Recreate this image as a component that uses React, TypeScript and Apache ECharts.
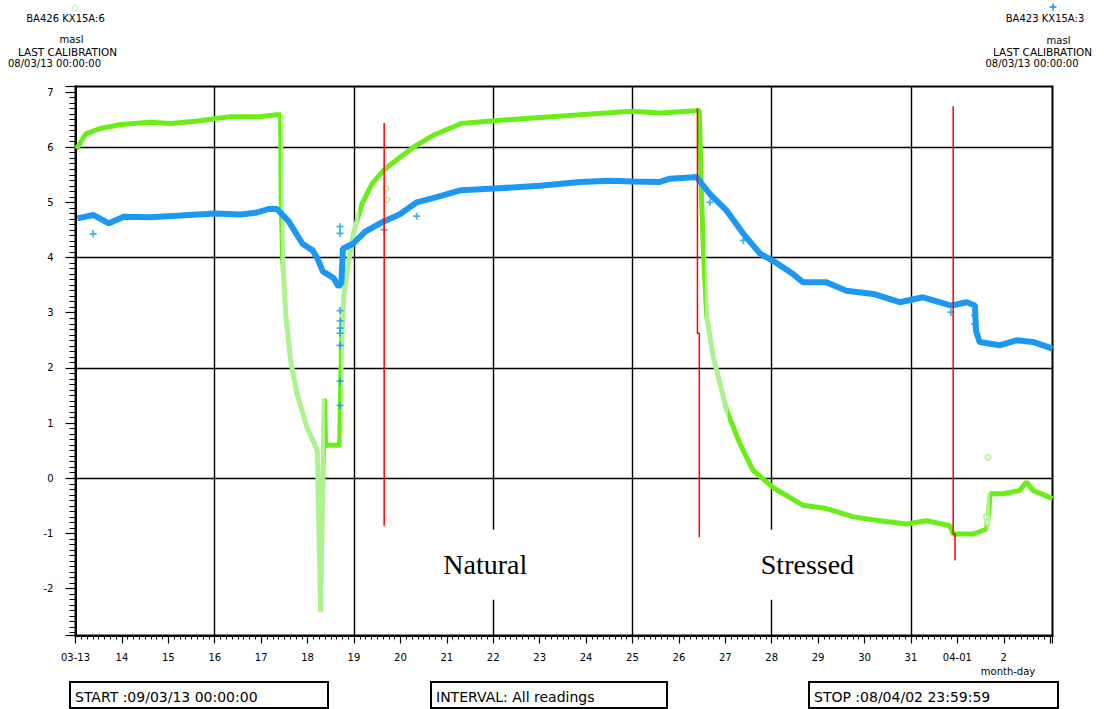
import React, { useEffect, useRef } from 'react';
import * as echarts from 'echarts';

const SANS = "'DejaVu Sans', sans-serif";

// x values are days since 03-13 00:00
const xLabels = ['03-13', '14', '15', '16', '17', '18', '19', '20', '21', '22', '23', '24', '25', '26', '27', '28', '29', '30', '31', '04-01', '2'];
const gridDays = [3, 6, 9, 12, 15, 18];
const gridLevels = [0, 2, 4, 6];

// BA426 KX15A:6 (green)
const greenReadings = [
  [0.02, 5.97], [0.22, 6.24], [0.54, 6.34], [0.97, 6.41], [1.61, 6.45], [2.05, 6.43], [2.69, 6.48], [3.01, 6.52],
  [3.34, 6.55], [3.98, 6.55], [4.33, 6.59], [4.42, 6.59],
  [4.43, 5.16], [4.46, 4.03], [4.53, 2.97], [4.63, 2.16], [4.77, 1.54], [4.99, 0.92], [5.21, 0.51],
  [5.28, -2.42], [5.36, 1.45], [5.39, 0.6], [5.69, 0.6],
  [5.73, 2.41], [5.78, 3.29], [5.86, 3.79], [5.98, 4.41], [6.17, 4.97], [6.39, 5.34], [6.65, 5.59], [6.84, 5.72],
  [7.28, 6.0], [7.72, 6.22], [8.31, 6.43], [9.02, 6.48], [10.01, 6.54], [10.87, 6.59], [11.99, 6.65], [12.59, 6.62],
  [13.38, 6.66], [13.44, 6.67],
  [13.49, 5.05], [13.53, 4.05], [13.6, 2.94], [13.74, 2.2], [13.92, 1.6], [14.03, 1.23], [14.32, 0.62], [14.6, 0.14],
  [15.07, -0.19], [15.68, -0.49], [16.18, -0.55], [16.76, -0.7], [17.33, -0.77], [17.9, -0.83], [18.34, -0.77],
  [18.84, -0.86], [18.91, -1.01], [19.34, -1.01], [19.63, -0.92], [19.68, -0.6], [19.7, -0.28], [19.98, -0.28],
  [20.34, -0.22], [20.49, -0.07], [20.63, -0.22], [21.05, -0.37],
];
const greenOutliers = [[6.69, 5.25], [6.71, 5.05], [19.66, 0.38], [19.62, -0.7], [19.64, -0.8]];

// BA423 KX15A:3 (blue)
const blueReadings = [
  [0.04, 4.71], [0.39, 4.77], [0.72, 4.62], [1.04, 4.74], [1.61, 4.73], [2.26, 4.76], [3.01, 4.8], [3.55, 4.78],
  [3.88, 4.81], [4.17, 4.88], [4.34, 4.88], [4.59, 4.66], [4.89, 4.25], [5.11, 4.13], [5.22, 3.97], [5.33, 3.75],
  [5.56, 3.63], [5.67, 3.47], [5.73, 3.55], [5.76, 4.16], [5.98, 4.25], [6.24, 4.47], [6.65, 4.66], [6.98, 4.78],
  [7.35, 5.0], [7.8, 5.1], [8.31, 5.22], [9.02, 5.25], [10.01, 5.3], [10.87, 5.37], [11.52, 5.39], [11.99, 5.38],
  [12.59, 5.37], [12.81, 5.43], [13.38, 5.46], [13.67, 5.15], [14.03, 4.85], [14.39, 4.43], [14.75, 4.07],
  [15.07, 3.92], [15.46, 3.7], [15.68, 3.55], [16.18, 3.55], [16.61, 3.4], [17.19, 3.34], [17.76, 3.19],
  [18.26, 3.28], [18.87, 3.13], [19.2, 3.19], [19.38, 3.13], [19.4, 2.68], [19.48, 2.47], [19.91, 2.41],
  [20.27, 2.5], [20.63, 2.47], [21.05, 2.35],
];
const blueOutliers = [
  [0.38, 4.43], [5.7, 4.56], [5.7, 4.44], [5.7, 3.04], [5.7, 2.85], [5.7, 2.72], [5.7, 2.63], [5.7, 2.41],
  [5.7, 1.76], [5.7, 1.32], [6.65, 4.5], [7.35, 4.75], [13.67, 5.0], [14.39, 4.31], [18.86, 3.01], [19.37, 2.95],
  [19.37, 2.8],
];

// red event markers
const redLine1 = [[6.65, 6.44], [6.65, -0.86]];
const redLine2 = [[13.4, 6.7], [13.4, 2.63], [13.44, 2.63], [13.44, -1.07]];
const redLine3 = [[18.91, 6.74], [18.91, -1.01], [18.95, -1.01], [18.95, -1.49]];

const annotations = [
  { name: 'Natural', coord: [8.83, -1.57] },
  { name: 'Stressed', coord: [15.77, -1.57] },
];

const GREEN = '#6aee18';
const GREEN_LIGHT = '#aef28f';
const BLUE = '#1c98f2';
const PLUS = 'path://M3,0 H5 V3 H8 V5 H5 V8 H3 V5 H0 V3 H3 Z';

function hdr(text: string, x: number, y: number, size = 10) {
  return {
    type: 'text',
    x,
    y,
    style: { text, fill: '#000', fontFamily: SANS, fontSize: size, align: 'center', verticalAlign: 'middle' },
  };
}

function box(x: number, w: number, text: string) {
  return [
    { type: 'rect', shape: { x, y: 682, width: w, height: 26 }, style: { fill: '#fff', stroke: '#000', lineWidth: 2 } },
    {
      type: 'text',
      x: x + 5,
      y: 697,
      style: { text, fill: '#000', fontFamily: SANS, fontSize: 14, align: 'left', verticalAlign: 'middle' },
    },
  ];
}

export default function App() {
  const ref = useRef<HTMLDivElement>(null);
  useEffect(() => {
    document.body.style.margin = '0';
    const chart = echarts.init(ref.current!, null, { renderer: 'svg' });
    const redSeries = (data: number[][]) => ({
      type: 'line',
      data,
      showSymbol: false,
      symbol: 'none',
      z: 4,
      lineStyle: { color: '#ff0000', width: 1.5 },
    });
    chart.setOption({
      animation: false,
      backgroundColor: '#fff',
      grid: {
        left: 75.5,
        top: 86.5,
        width: 977,
        height: 549,
        show: true,
        borderColor: '#000',
        borderWidth: 2,
        backgroundColor: '#fff',
      },
      xAxis: {
        type: 'value',
        min: 0,
        max: 21.05,
        interval: 1,
        axisLine: { show: true, onZero: false, lineStyle: { color: '#000', width: 2 } },
        axisTick: { show: true, length: 8, lineStyle: { color: '#000', width: 1.2 } },
        minorTick: { show: true, splitNumber: 8, length: 4, lineStyle: { color: '#000', width: 1 } },
        splitLine: { show: false },
        axisLabel: {
          showMaxLabel: false,
          margin: 17,
          color: '#000',
          fontFamily: SANS,
          fontSize: 10,
          formatter: (v: number) => (Math.abs(v - Math.round(v)) < 1e-6 && xLabels[Math.round(v)]) || '',
        },
      },
      yAxis: {
        type: 'value',
        min: -2.85,
        max: 7.1,
        splitNumber: 10,
        axisLine: { show: true, onZero: false, lineStyle: { color: '#000', width: 2 } },
        axisTick: { show: true, length: 10, lineStyle: { color: '#000', width: 1.2 } },
        minorTick: { show: true, splitNumber: 10, length: 6, lineStyle: { color: '#000', width: 1 } },
        splitLine: { show: false },
        axisLabel: {
          showMinLabel: false,
          showMaxLabel: false,
          margin: 22,
          color: '#000',
          fontFamily: SANS,
          fontSize: 10,
        },
      },
      visualMap: [
        {
          type: 'piecewise',
          show: false,
          dimension: 0,
          seriesIndex: 1,
          pieces: [
            { lt: 4.425, color: GREEN },
            { gte: 4.425, lt: 5.38, color: GREEN_LIGHT },
            { gte: 5.38, lt: 5.71, color: GREEN },
            { gte: 5.71, lt: 6.1, color: GREEN_LIGHT },
            { gte: 6.1, lt: 13.56, color: GREEN },
            { gte: 13.56, lt: 14.05, color: GREEN_LIGHT },
            { gte: 14.05, lt: 19.64, color: GREEN },
            { gte: 19.64, lt: 19.71, color: GREEN_LIGHT },
            { gte: 19.71, color: GREEN },
          ],
        },
      ],
      series: [
        {
          type: 'line',
          data: [],
          z: 1,
          markLine: {
            silent: true,
            z: 1,
            symbol: ['none', 'none'],
            label: { show: false },
            lineStyle: { color: '#000', width: 1.4, type: 'solid' },
            data: [...gridDays.map((d) => ({ xAxis: d })), ...gridLevels.map((l) => ({ yAxis: l }))],
          },
        },
        {
          type: 'line',
          name: 'BA426 KX15A:6',
          data: greenReadings,
          showSymbol: false,
          symbol: 'none',
          z: 2,
          lineStyle: { width: 5 },
        },
        {
          type: 'line',
          name: 'BA423 KX15A:3',
          data: blueReadings,
          showSymbol: false,
          symbol: 'none',
          z: 3,
          lineStyle: { width: 6, color: BLUE },
        },
        {
          type: 'scatter',
          data: blueOutliers,
          symbol: PLUS,
          symbolSize: 7,
          z: 3,
          itemStyle: { color: BLUE },
        },
        {
          type: 'scatter',
          data: greenOutliers,
          symbol: 'emptyCircle',
          symbolSize: 5,
          z: 2,
          itemStyle: { color: GREEN_LIGHT, borderColor: GREEN_LIGHT, borderWidth: 1 },
        },
        redSeries(redLine1),
        redSeries(redLine2),
        redSeries(redLine3),
        {
          type: 'scatter',
          data: [],
          z: 10,
          markPoint: {
            z: 10,
            silent: true,
            symbol: 'rect',
            symbolSize: 1,
            itemStyle: { color: 'rgba(0,0,0,0)' },
            label: {
              show: true,
              position: 'inside',
              formatter: '{b}',
              color: '#000',
              fontFamily: "'Liberation Serif', serif",
              fontSize: 28,
              backgroundColor: '#fff',
              padding: [15, 8, 27, 8],
            },
            data: annotations,
          },
        },
      ],
      graphic: [
        { type: 'circle', shape: { cx: 75, cy: 8, r: 2.5 }, style: { fill: 'none', stroke: GREEN_LIGHT, lineWidth: 1 } },
        hdr('BA426 KX15A:6', 65.5, 18),
        hdr('masl', 71.5, 39),
        hdr('LAST CALIBRATION', 67.5, 51.5, 10.5),
        hdr('08/03/13 00:00:00', 54.5, 63.5),
        { type: 'line', shape: { x1: 1049.5, y1: 7, x2: 1056.5, y2: 7 }, style: { stroke: BLUE, lineWidth: 1.6 } },
        { type: 'line', shape: { x1: 1053, y1: 3.5, x2: 1053, y2: 10.5 }, style: { stroke: BLUE, lineWidth: 1.6 } },
        hdr('BA423 KX15A:3', 1045, 18),
        hdr('masl', 1058.5, 40),
        hdr('LAST CALIBRATION', 1042.5, 51.5, 10.5),
        hdr('08/03/13 00:00:00', 1032, 63.5),
        hdr('month-day', 1008, 671),
        ...box(70, 258, 'START :09/03/13 00:00:00'),
        ...box(431, 236, 'INTERVAL: All readings'),
        ...box(809, 249, 'STOP :08/04/02 23:59:59'),
      ],
    });
    return () => chart.dispose();
  }, []);
  return <div ref={ref} style={{ width: 1104, height: 709 }} />;
}
